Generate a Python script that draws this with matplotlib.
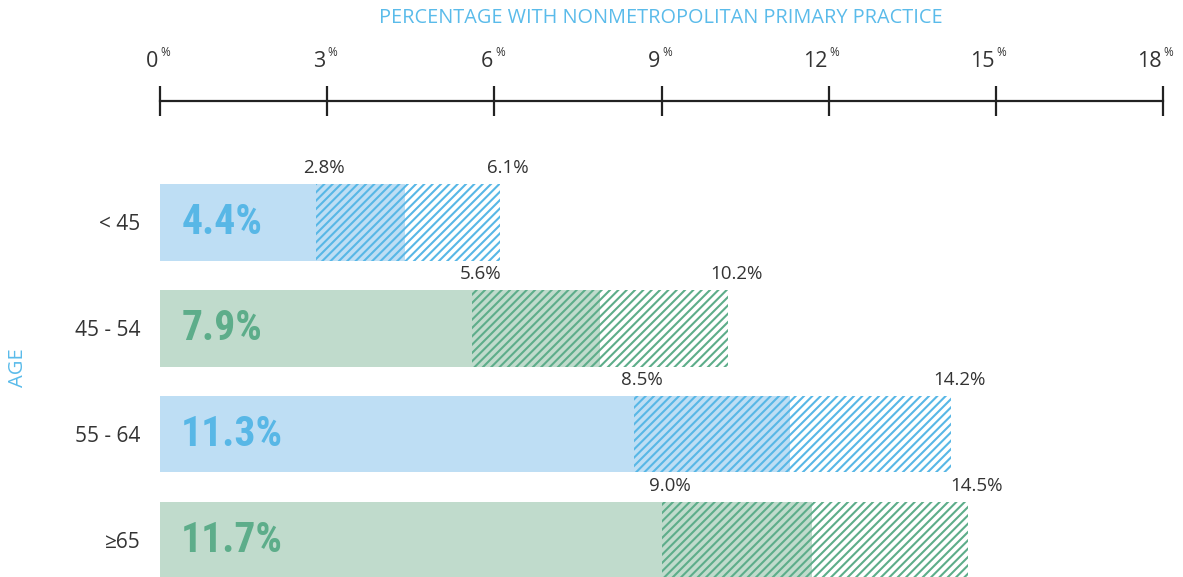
import matplotlib
matplotlib.use("Agg")
import matplotlib.pyplot as plt

categories = ["< 45", "45 - 54", "55 - 64", "≥65"]
estimates = [4.4, 7.9, 11.3, 11.7]
lower_ci = [2.8, 5.6, 8.5, 9.0]
upper_ci = [6.1, 10.2, 14.2, 14.5]
tick_values = [0, 3, 6, 9, 12, 15, 18]

fill_colors = ["#BEDEF4", "#C0DBCC", "#BEDEF4", "#C0DBCC"]
line_colors = ["#58B7E6", "#5DAD8A", "#58B7E6", "#5DAD8A"]
blue_text = "#5ABBEA"
dark = "#333333"

plt.rcParams["font.family"] = ["Open Sans", "DejaVu Sans"]
plt.rcParams["hatch.linewidth"] = 1.5

W, H = 1183, 577
fig = plt.figure(figsize=(W / 100, H / 100), dpi=100)
ax_left, ax_right = 160, 1163
ax_top = 101
ax = fig.add_axes([ax_left / W, 0, (ax_right - ax_left) / W, (H - ax_top) / H])

ax.set_xlim(0, 18)
ax.set_ylim(3.349, -1.142)
bar_h = 0.726
ypos = list(range(len(categories)))

for i, y in enumerate(ypos):
    ax.barh(y, estimates[i], height=bar_h, left=0, color=fill_colors[i],
            edgecolor="none", linewidth=0)
    ax.barh(y, upper_ci[i] - lower_ci[i], height=bar_h, left=lower_ci[i],
            color="none", edgecolor=line_colors[i], hatch="////", linewidth=0)
    ax.text(0.38, y, f"{estimates[i]:.1f}%", ha="left", va="center",
            fontsize=30, fontweight="bold", color=line_colors[i],
            family=["Roboto Condensed", "Liberation Sans Narrow", "Roboto", "DejaVu Sans"])
    for v in (lower_ci[i], upper_ci[i]):
        ax.annotate(f"{v:.1f}%", xy=(v, y - bar_h / 2), xytext=(6, 5),
                    textcoords="offset points", ha="center", va="bottom",
                    fontsize=13.5, color=dark)

ax.set_yticks(ypos)
ax.set_yticklabels(categories, fontsize=15, color=dark)
ax.tick_params(axis="y", length=0, pad=14)

ax.xaxis.tick_top()
ax.set_xticks(tick_values)
ax.set_xticklabels([])
ax.tick_params(axis="x", direction="inout", length=21, width=1.6, color="#222222")
for s in ("left", "right", "bottom"):
    ax.spines[s].set_visible(False)
ax.spines["top"].set_linewidth(1.6)
ax.spines["top"].set_color("#222222")

trans = ax.get_xaxis_transform()
for t in tick_values:
    ax.annotate(str(t), xy=(t, 1), xycoords=trans, xytext=(-1, 21),
                textcoords="offset points", ha="right", va="bottom",
                fontsize=15.5, color=dark)
    ax.annotate("%", xy=(t, 1), xycoords=trans, xytext=(0.5, 30.5),
                textcoords="offset points", ha="left", va="bottom",
                fontsize=8.5, color=dark)

fig.text(661 / W, 1 - 18 / H, "PERCENTAGE WITH NONMETROPOLITAN PRIMARY PRACTICE",
         ha="center", va="center", fontsize=14.3, color=blue_text)
fig.text(18 / W, 1 - 368 / H, "AGE", ha="center", va="center", rotation=90,
         fontsize=14.5, color=blue_text)

fig.savefig("out.png", dpi=100)
